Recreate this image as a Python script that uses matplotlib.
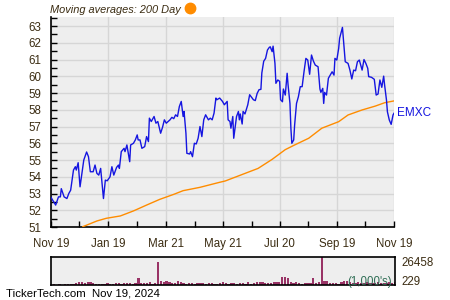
import numpy as np
import matplotlib
matplotlib.use('Agg')
import matplotlib.pyplot as plt
import matplotlib.dates as mdates
from matplotlib.lines import Line2D
from matplotlib.ticker import MultipleLocator

plt.rcParams['font.family'] = ['Liberation Sans', 'DejaVu Sans']

# Datos: dias desde 2023-11-19 y precio de cierre
start = np.datetime64('2023-11-19')
price_days = [0, 5, 8, 10, 11, 14, 17, 19, 21, 24, 26, 27, 29, 31, 33, 35, 38, 40, 42, 45,
              47, 49, 51, 53, 56, 58, 60, 63, 65, 67, 70, 72, 73, 75, 78, 79, 81, 84, 85, 88,
              90, 92, 93, 95, 97, 100, 102, 104, 105, 107, 110, 112, 114, 117, 119, 121, 123, 125, 127, 129,
              131, 133, 135, 137, 139, 141, 142, 144, 145, 148, 149, 151, 153, 155, 157, 159, 161, 163, 165, 168,
              170, 172, 174, 176, 177, 180, 183, 185, 188, 189, 191, 192, 194, 195, 197, 198, 200, 201, 202, 204,
              205, 207, 210, 212, 214, 216, 218, 220, 222, 224, 225, 227, 229, 231, 233, 234, 236, 237, 239, 240,
              242, 244, 245, 247, 248, 250, 252, 253, 255, 256, 257, 259, 260, 262, 264, 266, 268, 270, 272, 274,
              276, 278, 280, 282, 285, 287, 288, 290, 291, 292, 294, 296, 298, 300, 302, 303, 305, 307, 308, 311,
              314, 317, 319, 321, 323, 325, 327, 329, 332, 334, 336, 338, 339, 342, 345, 347, 349, 351, 353, 355,
              356, 358, 359, 361, 363, 365, 366]
price = [52.77, 52.31, 52.80, 52.80, 53.29, 52.80, 52.70, 53.00, 53.20, 54.40, 54.60, 54.40, 54.84, 53.40, 54.20, 55.00, 55.48, 55.20, 54.30, 54.30,
         54.70, 54.20, 54.10, 54.50, 52.70, 53.80, 53.76, 54.00, 54.60, 54.10, 54.56, 54.70, 54.50, 55.50, 55.70, 55.50, 55.90, 54.90, 55.90, 56.00,
         56.20, 56.50, 56.20, 56.20, 55.70, 55.80, 56.40, 56.10, 57.50, 57.30, 57.60, 57.20, 57.30, 56.60, 56.95, 57.40, 57.20, 57.30, 57.40, 57.55,
         57.47, 57.70, 57.60, 58.20, 58.50, 57.60, 57.90, 56.60, 55.40, 55.36, 55.50, 55.20, 56.00, 55.96, 56.30, 57.00, 56.40, 57.40, 57.70, 57.40,
         57.50, 57.40, 57.80, 58.70, 58.60, 58.70, 58.50, 58.30, 58.50, 57.40, 57.30, 56.90, 57.60, 56.30, 57.20, 57.60, 57.90, 57.40, 57.75, 57.15,
         57.90, 57.75, 58.30, 58.90, 58.75, 58.60, 58.55, 58.98, 59.20, 59.22, 60.20, 60.90, 61.07, 61.57, 61.73, 61.76, 61.47, 61.80, 60.77, 59.58,
         59.78, 59.70, 58.60, 58.48, 59.24, 58.88, 60.18, 59.48, 58.38, 56.90, 56.00, 56.20, 57.10, 58.38, 58.78, 59.38, 59.38, 60.27, 61.07, 60.97,
         60.12, 61.27, 60.91, 60.67, 60.57, 59.24, 59.04, 59.28, 58.38, 59.04, 58.88, 59.88, 60.07, 60.27, 60.07, 61.07, 60.97, 61.67, 62.27, 62.92,
         60.87, 60.77, 60.37, 59.84, 60.37, 60.33, 60.87, 60.97, 60.37, 61.00, 60.77, 60.48, 59.98, 59.94, 59.82, 58.88, 58.94, 59.78, 59.34, 60.01,
         59.48, 58.58, 57.88, 57.39, 57.13, 57.69, 57.79]

# Media movil de 200 dias
ma_days = [34, 49, 59, 74, 88, 102, 116, 131, 141, 159, 180, 186, 207, 221, 236, 250, 260, 275, 289, 307,
           317, 332, 346, 356, 366]
ma_200 = [51.02, 51.36, 51.52, 51.66, 51.96, 52.31, 52.65, 52.95, 53.17, 53.37, 53.67, 53.75, 54.20, 54.50, 55.04, 55.62, 55.90, 56.30, 56.90, 57.29,
          57.69, 57.99, 58.22, 58.42, 58.53]

# Volumen (miles), cada 3 dias
volume = [600, 900, 400, 700, 300, 800, 500,
          1200, 900, 2200, 2800, 2600, 1800, 2400,
          2900, 1500, 1100, 900, 1300, 1000, 1700,
          1400, 1100, 1600, 1900, 1200, 1500, 1800,
          2000, 1300, 1700, 6900, 1600, 2200, 1500,
          2500, 1400, 1800, 21500, 3800, 2900, 3400,
          2600, 1800, 2200, 3500, 2800, 1900, 1400,
          1700, 2100, 1300, 1600, 2000, 1500, 1200,
          1800, 2300, 1400, 1100, 1500, 2600, 1900,
          1300, 1600, 2000, 900, 1500, 1800, 1200,
          2400, 1400, 1900, 2700, 3100, 2500, 1700,
          2300, 1800, 2600, 3000, 2400, 7900, 7500,
          7000, 2800, 1900, 2400, 1600, 1200, 2000,
          1500, 2200, 6500, 1800, 2700, 26458, 3800,
          3400, 2200, 1600, 1900, 1300, 2500, 3600,
          3800, 2900, 1700, 2300, 2800, 1600, 2100,
          2500, 1900, 2200, 1800, 2600, 2000, 2300,
          1700, 2400, 2100, 2500]
volume_days = np.arange(0, 367, 3)

tick_dates = ['2023-11-19', '2024-01-19', '2024-03-21', '2024-05-21', '2024-07-20', '2024-09-19', '2024-11-19']
minor_dates = ['2023-12-19', '2024-02-19', '2024-04-21', '2024-06-20', '2024-08-19', '2024-10-19']

txt_color = '#3b2c12'
bg = '#eeeeee'

price_x = start + np.array(price_days)
ma_x = start + np.array(ma_days)
vol_x = start + volume_days

fig = plt.figure(figsize=(4.5, 3), dpi=100)
ax = fig.add_axes([0.1133, 0.2433, 0.7622, 0.70])
ax.set_facecolor(bg)
ax.plot(ma_x, ma_200, color='#ff8c00', lw=1.0, zorder=3)
ax.plot(price_x, price, color='#1515e0', lw=1.0, zorder=4)
ax.set_xlim(start, start + 366)
ax.set_ylim(51, 63.54)

ax.yaxis.set_major_locator(MultipleLocator(1))
ax.yaxis.set_minor_locator(MultipleLocator(0.5))
ax.set_xticks([np.datetime64(d) for d in tick_dates])
ax.set_xticks([np.datetime64(d) for d in minor_dates], minor=True)
ax.xaxis.set_major_formatter(mdates.DateFormatter('%b %d'))
ax.grid(True, which='major', color='#d6d6d6', lw=1.0)
ax.set_axisbelow(True)
for s in ['top', 'right']:
    ax.spines[s].set_visible(False)
ax.spines['left'].set_linewidth(1.2)
ax.spines['bottom'].set_linewidth(1.2)
ax.tick_params(which='both', direction='in', length=4, width=1, colors='black',
               labelcolor=txt_color, labelsize=8.3)
ax.tick_params(axis='x', pad=8)
ax.tick_params(axis='y', pad=7)
ax.text(1.01, (price[-1] - 51) / 12.54, 'EMXC', transform=ax.transAxes, color='#1515e0',
        fontsize=8.5, va='center', ha='left')

fig.text(0.111, 0.968, 'Moving averages: 200 Day', style='italic', fontsize=7.9,
         color=txt_color, va='center', ha='left')
fig.add_artist(Line2D([0.423], [0.975], marker='o', markersize=7.5, color='#ff8c00',
                      transform=fig.transFigure))

# Panel de volumen
axv = fig.add_axes([0.1133, 0.05, 0.7644, 0.0933])
axv.set_facecolor(bg)
axv.bar(vol_x, volume, width=2.4, color='#993366')
axv.set_xlim(start, start + 366)
axv.set_ylim(0, 26458)
axv.set_xticks([])
axv.set_yticks([])
for s in axv.spines.values():
    s.set_linewidth(1.2)
axv.text(1.02, 0.78, '26458', transform=axv.transAxes, fontsize=8.3, color=txt_color, va='center')
axv.text(1.02, 0.12, '229', transform=axv.transAxes, fontsize=8.3, color=txt_color, va='center')
axv.text(0.99, 0.1, "(1,000's)", transform=axv.transAxes, fontsize=8.3, color='#2f6e55',
         va='center', ha='right')

fig.text(0.013, 0.02, 'TickerTech.com  Nov 19, 2024', fontsize=8.2, color='black', va='center')

plt.savefig('out.png', dpi=100)
plt.close()
